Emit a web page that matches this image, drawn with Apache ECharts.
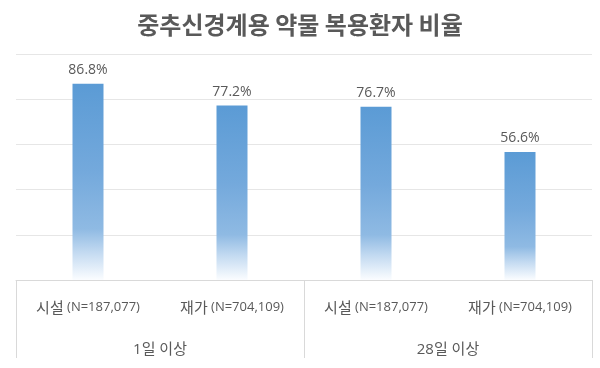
<!DOCTYPE html>
<html>
<head>
<meta charset="utf-8">
<script src="https://cdn.jsdelivr.net/npm/echarts@6/dist/echarts.min.js"></script>
<style>
html,body{margin:0;padding:0;background:#fff;}
#c{width:600px;height:368px;}
</style>
</head>
<body>
<div id="c"></div>
<script>
const titleText = "중추신경계용 약물 복용환자 비율";
const subNames = ["시설", "재가", "시설", "재가"];
const subCounts = ["(N=187,077)", "(N=704,109)", "(N=187,077)", "(N=704,109)"];
const groups = ["1일 이상", "28일 이상"];
const values = [86.8, 77.2, 76.7, 56.6];

const categories = subNames.map((n, i) => n + "|" + subCounts[i]);
const FONT = "'Open Sans', 'Noto Sans CJK KR', sans-serif";

const chart = echarts.init(document.getElementById('c'), null, {renderer: 'canvas'});
chart.setOption({
  animation: false,
  backgroundColor: '#ffffff',
  title: {
    text: titleText,
    left: 'center',
    top: 8,
    textStyle: {fontFamily: "'Noto Sans CJK KR', sans-serif", fontSize: 24, fontWeight: 'bold', color: '#595959'}
  },
  grid: {left: 16, right: 8, top: 54, bottom: 88, containLabel: false},
  xAxis: [{
    type: 'category',
    data: categories,
    position: 'bottom',
    axisLine: {show: true, lineStyle: {color: '#d9d9d9', width: 1}},
    axisTick: {show: false},
    axisLabel: {
      margin: 20,
      interval: 0,
      formatter: function (v) {
        const p = v.split('|');
        return '{a|' + p[0] + '} {b|' + p[1] + '}';
      },
      rich: {
        a: {fontFamily: "'Noto Sans CJK KR', sans-serif", fontSize: 15, color: '#595959'},
        b: {fontFamily: FONT, fontSize: 13, color: '#595959'}
      }
    }
  }, {
    type: 'category',
    data: groups,
    position: 'bottom',
    offset: 0,
    axisLine: {show: false},
    axisTick: {show: true, length: 78, lineStyle: {color: '#d9d9d9', width: 1}},
    axisLabel: {margin: 62, interval: 0, fontFamily: FONT, fontSize: 15, color: '#595959'}
  }],
  yAxis: {
    type: 'value',
    min: 0,
    max: 100,
    interval: 20,
    axisLabel: {show: false},
    axisLine: {show: false},
    axisTick: {show: false},
    splitLine: {show: true, lineStyle: {color: '#e6e6e6', width: 1}}
  },
  series: [{
    type: 'bar',
    data: values,
    xAxisIndex: 0,
    barWidth: 31,
    itemStyle: {
      color: new echarts.graphic.LinearGradient(0, 0, 0, 1, [
        {offset: 0, color: '#5b9bd5'},
        {offset: 0.45, color: '#74a9dc'},
        {offset: 0.74, color: '#8fbae3'},
        {offset: 0.86, color: '#c3daf1'},
        {offset: 1, color: '#fbfdff'}
      ])
    },
    label: {
      show: true,
      position: 'top',
      distance: 7,
      formatter: function (p) { return p.value.toFixed(1) + '%'; },
      fontFamily: FONT,
      fontSize: 14,
      color: '#595959'
    }
  }]
});
</script>
</body>
</html>
